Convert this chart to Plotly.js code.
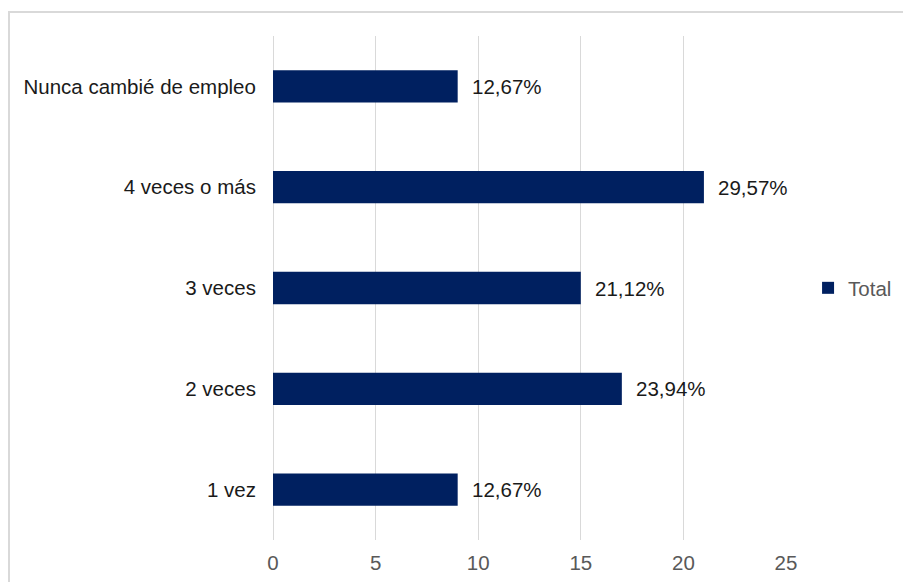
<!DOCTYPE html>
<html>
<head>
<meta charset="utf-8">
<script src="https://cdn.plot.ly/plotly-3.0.1.min.js"></script>
<style>
  html, body { margin: 0; padding: 0; background: #ffffff; }
  #frame { position: absolute; left: 8px; top: 11px; width: 900px; height: 580px;
           border-top: 2px solid #d9d9d9; border-left: 2px solid #d9d9d9; box-sizing: border-box; }
  #chart { position: absolute; left: 0; top: 0; width: 903px; height: 582px; }
</style>
</head>
<body>
<div id="frame"></div>
<div id="chart"></div>
<script>
// Data
const categories = ["1 vez", "2 veces", "3 veces", "4 veces o más", "Nunca cambié de empleo"];
const counts = [9, 17, 15, 21, 9];
const labels = ["12,67%", "23,94%", "21,12%", "29,57%", "12,67%"];
const tickVals = [0, 5, 10, 15, 20, 25];
const seriesName = "Total";

const FONT = "Liberation Sans, Arial, sans-serif";
const FS = 20.5;

const trace = {
  type: "bar",
  orientation: "h",
  x: counts,
  y: categories,
  name: seriesName,
  width: 0.32,
  marker: { color: "#002060" },
  hoverinfo: "x+y"
};

const annotations = categories.map((c, i) => ({
  x: counts[i],
  y: c,
  xref: "x",
  yref: "y",
  text: labels[i],
  showarrow: false,
  xanchor: "left",
  yanchor: "middle",
  xshift: 12,
  font: { family: FONT, size: FS, color: "#1a1a1a" }
}));

const layout = {
  width: 903,
  height: 582,
  margin: { l: 273, r: 117, t: 36, b: 42, pad: 0, autoexpand: false },
  paper_bgcolor: "rgba(0,0,0,0)",
  plot_bgcolor: "rgba(0,0,0,0)",
  font: { family: FONT, size: FS, color: "#595959" },
  xaxis: {
    range: [0, 25],
    tickvals: tickVals,
    ticktext: tickVals.map(String),
    showgrid: true,
    gridcolor: "#d9d9d9",
    gridwidth: 1,
    zeroline: true,
    zerolinecolor: "#d9d9d9",
    zerolinewidth: 1,
    showline: false,
    ticks: "outside",
    ticklen: 4,
    tickcolor: "rgba(0,0,0,0)",
    automargin: false,
    tickfont: { family: FONT, size: FS, color: "#595959" },
    fixedrange: true
  },
  yaxis: {
    type: "category",
    categoryorder: "array",
    categoryarray: categories,
    showgrid: false,
    zeroline: false,
    showline: false,
    ticks: "outside",
    ticklen: 12,
    tickcolor: "rgba(0,0,0,0)",
    automargin: false,
    tickfont: { family: FONT, size: FS, color: "#1a1a1a" },
    fixedrange: true
  },
  showlegend: true,
  legend: {
    x: 1.043,
    xanchor: "left",
    y: 0.5,
    yanchor: "middle",
    bgcolor: "rgba(0,0,0,0)",
    font: { family: FONT, size: FS, color: "#595959" }
  },
  annotations: annotations
};

Plotly.newPlot("chart", [trace], layout, { displayModeBar: false, staticPlot: true });
</script>
</body>
</html>
